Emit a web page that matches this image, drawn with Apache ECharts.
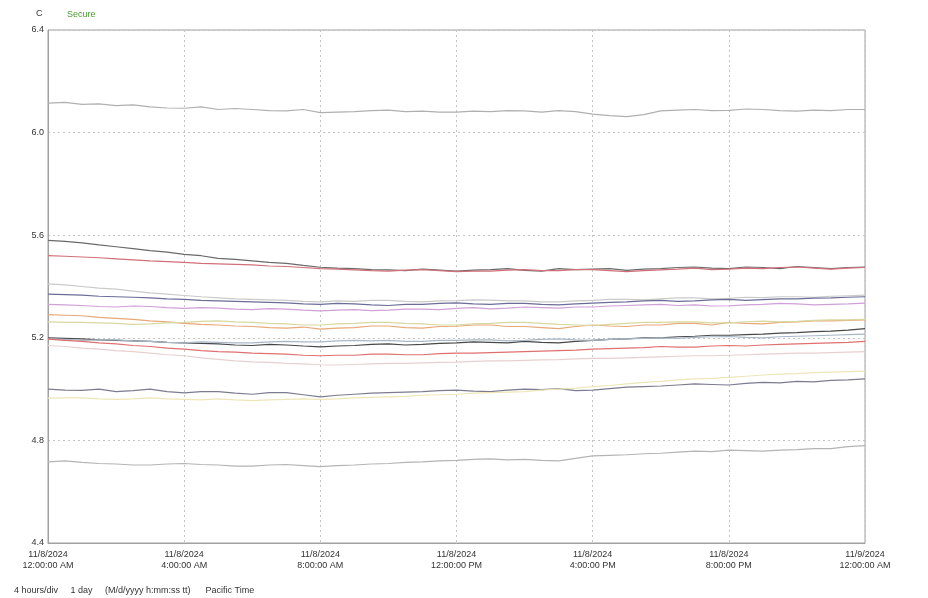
<!DOCTYPE html>
<html>
<head>
<meta charset="utf-8">
<script src="https://cdn.jsdelivr.net/npm/echarts@6/dist/echarts.min.js"></script>
<style>
  html, body { margin: 0; padding: 0; background: #fff; }
  #chart { width: 928px; height: 598px; }
</style>
</head>
<body>
<div id="chart"></div>
<script>
// hours since 11/8/2024 12:00:00 AM, one reading every half hour
const hours = [
  0, 0.5, 1, 1.5, 2, 2.5, 3, 3.5, 4, 4.5, 5, 5.5, 6, 6.5, 7, 7.5,
  8, 8.5, 9, 9.5, 10, 10.5, 11, 11.5, 12, 12.5, 13, 13.5, 14, 14.5, 15, 15.5,
  16, 16.5, 17, 17.5, 18, 18.5, 19, 19.5, 20, 20.5, 21, 21.5, 22, 22.5, 23, 23.5,
  24,
];

const tickLabels = [
  "11/8/2024\n12:00:00 AM", "11/8/2024\n4:00:00 AM", "11/8/2024\n8:00:00 AM",
  "11/8/2024\n12:00:00 PM", "11/8/2024\n4:00:00 PM", "11/8/2024\n8:00:00 PM",
  "11/9/2024\n12:00:00 AM",
];

const topGray = [
  6.115,6.118, 6.11,6.112, 6.105,6.108, 6.10,6.096,
  6.095,6.1, 6.09,6.094, 6.09,6.086, 6.085,6.09,
  6.078,6.08, 6.082,6.086, 6.088,6.082, 6.084,6.08,
  6.08,6.084, 6.082,6.086, 6.085,6.08, 6.086,6.082,
  6.072,6.066, 6.062,6.07, 6.085,6.088, 6.09,6.086,
  6.087,6.092, 6.09,6.086, 6.084,6.088, 6.086,6.09,
  6.09,
];
const darkGray = [
  5.58,5.576, 5.57,5.562, 5.555,5.548, 5.54,5.534,
  5.525,5.52, 5.51,5.506, 5.50,5.494, 5.49,5.482,
  5.475,5.472, 5.47,5.466, 5.465,5.462, 5.468,5.464,
  5.46,5.464, 5.466,5.47, 5.463,5.46, 5.47,5.466,
  5.468,5.47, 5.463,5.468, 5.47,5.474, 5.476,5.472,
  5.47,5.476, 5.474,5.47, 5.478,5.474, 5.47,5.474,
  5.476,
];
const red1 = [
  5.52,5.518, 5.515,5.512, 5.508,5.504, 5.50,5.497,
  5.494,5.49, 5.488,5.486, 5.484,5.48, 5.478,5.474,
  5.47,5.468, 5.465,5.462, 5.46,5.464, 5.466,5.462,
  5.458,5.46, 5.46,5.464, 5.466,5.462, 5.462,5.466,
  5.466,5.462, 5.458,5.462, 5.465,5.468, 5.472,5.466,
  5.468,5.472, 5.47,5.474, 5.476,5.472, 5.468,5.472,
  5.474,
];
const lightGray = [
  5.41,5.406, 5.40,5.394, 5.39,5.382, 5.375,5.37,
  5.365,5.36, 5.356,5.352, 5.35,5.348, 5.346,5.342,
  5.34,5.344, 5.342,5.346, 5.346,5.342, 5.34,5.344,
  5.345,5.348, 5.347,5.344, 5.344,5.34, 5.34,5.344,
  5.346,5.35, 5.35,5.348, 5.352,5.356, 5.356,5.352,
  5.354,5.358, 5.357,5.36, 5.36,5.358, 5.362,5.364,
  5.366,
];
const blueGray = [
  5.37,5.368, 5.366,5.362, 5.36,5.358, 5.356,5.352,
  5.35,5.346, 5.344,5.342, 5.34,5.338, 5.336,5.332,
  5.33,5.334, 5.332,5.328, 5.326,5.33, 5.33,5.334,
  5.336,5.332, 5.33,5.334, 5.334,5.33, 5.328,5.332,
  5.335,5.338, 5.34,5.344, 5.346,5.342, 5.344,5.348,
  5.35,5.346, 5.349,5.352, 5.352,5.355, 5.356,5.358,
  5.36,
];
const purple = [
  5.33,5.328, 5.326,5.322, 5.32,5.324, 5.322,5.318,
  5.315,5.318, 5.316,5.312, 5.31,5.314, 5.312,5.308,
  5.305,5.308, 5.31,5.306, 5.308,5.312, 5.312,5.31,
  5.315,5.318, 5.313,5.316, 5.32,5.318, 5.316,5.32,
  5.32,5.324, 5.326,5.328, 5.33,5.326, 5.328,5.324,
  5.325,5.328, 5.33,5.334, 5.332,5.328, 5.33,5.332,
  5.335,
];
const orange = [
  5.29,5.288, 5.286,5.28, 5.276,5.272, 5.266,5.262,
  5.256,5.252, 5.25,5.246, 5.244,5.24, 5.238,5.242,
  5.234,5.238, 5.24,5.246, 5.246,5.24, 5.238,5.244,
  5.245,5.25, 5.25,5.244, 5.244,5.24, 5.236,5.244,
  5.25,5.246, 5.244,5.25, 5.25,5.256, 5.256,5.25,
  5.26,5.256, 5.254,5.26, 5.262,5.266, 5.266,5.268,
  5.27,
];
const yellowGreen = [
  5.262,5.26, 5.26,5.258, 5.256,5.252, 5.254,5.258,
  5.26,5.264, 5.266,5.262, 5.26,5.256, 5.254,5.25,
  5.25,5.254, 5.256,5.26, 5.26,5.256, 5.254,5.25,
  5.25,5.254, 5.256,5.26, 5.26,5.256, 5.252,5.25,
  5.248,5.252, 5.256,5.26, 5.26,5.262, 5.262,5.258,
  5.258,5.262, 5.265,5.262, 5.264,5.268, 5.27,5.27,
  5.272,
];
const black = [
  5.20,5.198, 5.196,5.192, 5.19,5.188, 5.186,5.182,
  5.18,5.178, 5.176,5.172, 5.17,5.174, 5.172,5.168,
  5.165,5.168, 5.17,5.174, 5.176,5.172, 5.174,5.178,
  5.18,5.184, 5.182,5.18, 5.186,5.182, 5.18,5.186,
  5.19,5.194, 5.196,5.2, 5.20,5.204, 5.206,5.21,
  5.21,5.212, 5.214,5.218, 5.22,5.224, 5.226,5.23,
  5.236,
];
const paleBlue = [
  5.196,5.194, 5.19,5.192, 5.192,5.188, 5.186,5.182,
  5.18,5.184, 5.182,5.18, 5.18,5.184, 5.186,5.184,
  5.184,5.188, 5.19,5.188, 5.19,5.186, 5.186,5.19,
  5.19,5.192, 5.192,5.188, 5.19,5.194, 5.196,5.192,
  5.19,5.194, 5.196,5.198, 5.20,5.198, 5.202,5.204,
  5.205,5.202, 5.20,5.204, 5.206,5.208, 5.21,5.212,
  5.214,
];
const red2 = [
  5.195,5.19, 5.186,5.18, 5.176,5.17, 5.166,5.16,
  5.156,5.15, 5.146,5.144, 5.14,5.138, 5.136,5.132,
  5.13,5.132, 5.132,5.136, 5.136,5.134, 5.134,5.138,
  5.14,5.14, 5.142,5.144, 5.146,5.148, 5.15,5.152,
  5.156,5.158, 5.16,5.162, 5.166,5.164, 5.164,5.168,
  5.17,5.168, 5.172,5.174, 5.176,5.178, 5.18,5.182,
  5.186,
];
const palePink = [
  5.17,5.166, 5.16,5.156, 5.15,5.146, 5.14,5.134,
  5.13,5.122, 5.116,5.11, 5.106,5.104, 5.10,5.098,
  5.095,5.094, 5.096,5.098, 5.10,5.1, 5.102,5.104,
  5.105,5.108, 5.11,5.11, 5.112,5.114, 5.115,5.118,
  5.12,5.12, 5.122,5.124, 5.126,5.128, 5.13,5.13,
  5.132,5.134, 5.136,5.138, 5.14,5.14, 5.142,5.144,
  5.146,
];
const slate = [
  5.0,4.996, 4.995,5.0, 4.99,4.994, 5.0,4.99,
  4.985,4.99, 4.99,4.984, 4.98,4.986, 4.986,4.978,
  4.97,4.976, 4.98,4.984, 4.986,4.988, 4.99,4.994,
  4.996,4.992, 4.99,4.996, 5.0,4.998, 5.002,4.994,
  4.996,5.002, 5.008,5.01, 5.012,5.016, 5.02,5.018,
  5.016,5.022, 5.026,5.024, 5.03,5.028, 5.034,5.036,
  5.04,
];
const paleYellow = [
  4.965,4.966, 4.966,4.962, 4.96,4.962, 4.966,4.962,
  4.96,4.958, 4.962,4.958, 4.955,4.958, 4.96,4.962,
  4.96,4.962, 4.966,4.968, 4.97,4.972, 4.976,4.978,
  4.98,4.984, 4.986,4.988, 4.99,4.996, 5.0,5.004,
  5.01,5.014, 5.02,5.026, 5.03,5.036, 5.04,5.042,
  5.046,5.05, 5.055,5.058, 5.06,5.064, 5.066,5.068,
  5.07,
];
const bottomGray = [
  4.716,4.72, 4.714,4.71, 4.708,4.704, 4.704,4.708,
  4.71,4.706, 4.704,4.70, 4.70,4.704, 4.706,4.702,
  4.698,4.702, 4.704,4.708, 4.71,4.714, 4.716,4.72,
  4.722,4.726, 4.728,4.724, 4.726,4.722, 4.72,4.73,
  4.74,4.742, 4.744,4.748, 4.75,4.754, 4.758,4.756,
  4.762,4.76, 4.758,4.762, 4.764,4.768, 4.768,4.776,
  4.78,
];

const seriesDefs = [
  ["topGray", topGray, "#b0b0b0"],
  ["darkGray", darkGray, "#6a6a6a"],
  ["red1", red1, "#d07078"],
  ["lightGray", lightGray, "#cacaca"],
  ["blueGray", blueGray, "#6c6c98"],
  ["purple", purple, "#d0a0d8"],
  ["orange", orange, "#e8a878"],
  ["yellowGreen", yellowGreen, "#d8d8a0"],
  ["black", black, "#484848"],
  ["paleBlue", paleBlue, "#a8b8c8"],
  ["red2", red2, "#e07070"],
  ["palePink", palePink, "#e8d0d0"],
  ["slate", slate, "#7c7c90"],
  ["paleYellow", paleYellow, "#eee6b8"],
  ["bottomGray", bottomGray, "#b4b4b4"],
];

const chart = echarts.init(document.getElementById("chart"), null, { renderer: "canvas" });
chart.setOption({
  animation: false,
  textStyle: { fontFamily: "Liberation Sans, Arial, sans-serif" },
  graphic: [
    { type: "text", left: 36, top: 9, style: { text: "C", fontSize: 9, fill: "#333" } },
    { type: "text", left: 67, top: 10, style: { text: "Secure", fontSize: 9, fill: "#4a9a30" } },
    { type: "text", left: 14, top: 586, style: { text: "4 hours/div     1 day     (M/d/yyyy h:mm:ss tt)      Pacific Time", fontSize: 9, fill: "#333" } },
  ],
  grid: {
    left: 48, right: 63, top: 30, bottom: 55,
    show: true, borderColor: "#a0a0a0", borderWidth: 1,
  },
  xAxis: {
    type: "value",
    min: 0, max: 24, interval: 4,
    axisLine: { show: true, lineStyle: { color: "#a0a0a0" } },
    axisTick: { show: false },
    splitLine: { show: true, lineStyle: { color: "#c4c4c4", type: [2, 3] } },
    axisLabel: {
      color: "#333", fontSize: 9, lineHeight: 11, margin: 6,
      formatter: (v) => tickLabels[Math.round(v / 4)] || "",
    },
  },
  yAxis: {
    type: "value",
    min: 4.4, max: 6.4, interval: 0.4,
    axisLine: { show: true, lineStyle: { color: "#a0a0a0" } },
    axisTick: { show: false },
    splitLine: { show: true, lineStyle: { color: "#c4c4c4", type: [2, 3] } },
    axisLabel: { color: "#333", fontSize: 9, margin: 4, formatter: (v) => v.toFixed(1) },
  },
  series: seriesDefs.map(([name, values, color]) => ({
    name,
    type: "line",
    showSymbol: false,
    data: hours.map((h, i) => [h, values[i]]),
    lineStyle: { color, width: 1.2 },
  })),
});
</script>
</body>
</html>
